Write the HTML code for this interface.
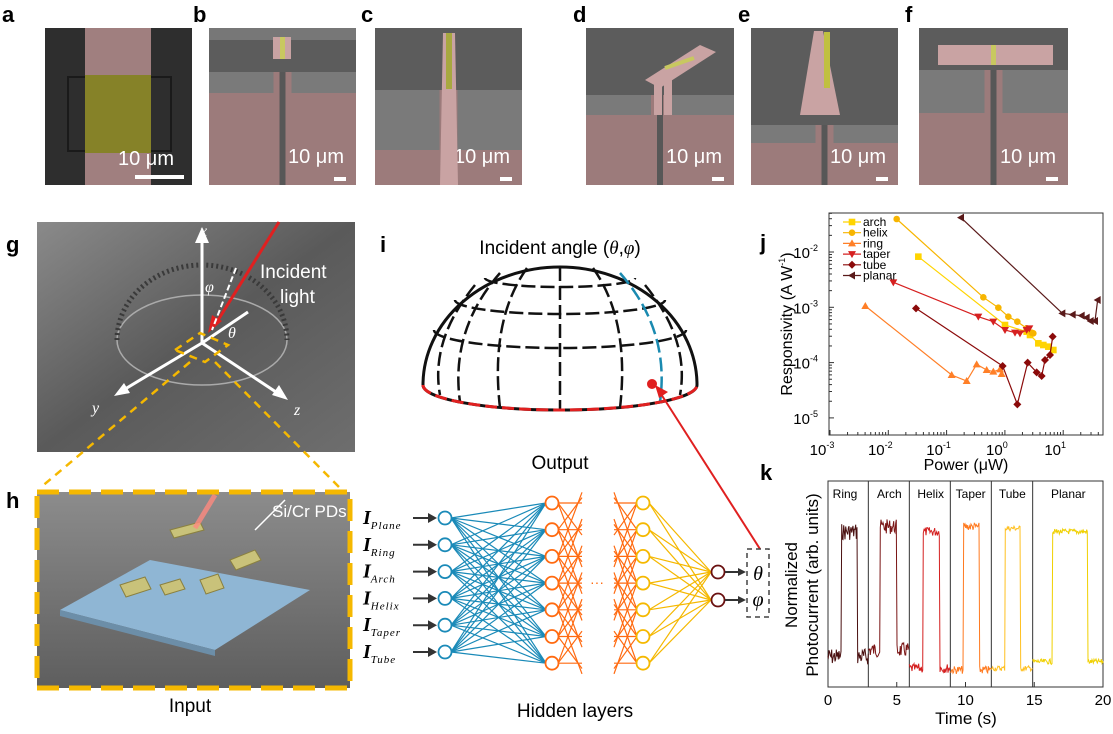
<!DOCTYPE html>
<html><head><meta charset="utf-8"><style>
html,body{margin:0;padding:0;background:#fff;}
svg{display:block;font-family:"Liberation Sans",sans-serif;}
</style></head><body>
<svg id="s" width="1113" height="734" viewBox="0 0 1113 734" xmlns="http://www.w3.org/2000/svg">
<defs>
<linearGradient id="gg" x1="0" y1="0" x2="1" y2="1"><stop offset="0" stop-color="#8a8a8a"/><stop offset="0.5" stop-color="#5a5a5a"/><stop offset="1" stop-color="#6e6e6e"/></linearGradient>
<linearGradient id="hg" x1="0" y1="0" x2="0" y2="1"><stop offset="0" stop-color="#8c8c8c"/><stop offset="1" stop-color="#5e5e5e"/></linearGradient>
</defs>
<g font-weight="bold" font-size="22" fill="#000">
<text x="2" y="22">a</text><text x="193" y="22">b</text><text x="361" y="22">c</text><text x="573" y="22">d</text><text x="738" y="22">e</text><text x="905" y="22">f</text>
<text x="6" y="252">g</text><text x="380" y="252">i</text><text x="760" y="250">j</text>
<text x="6" y="508">h</text><text x="760" y="480">k</text>
</g>
<rect x="45" y="28" width="147" height="157" fill="#2e2e2e"/>
<rect x="85" y="28" width="66" height="157" fill="#a07f7f"/>
<rect x="68" y="77" width="103" height="74" fill="none" stroke="#1a1a1a" stroke-width="2"/>
<rect x="85" y="75" width="66" height="78" fill="#868228"/>
<text x="118" y="165" fill="#fff" font-size="20">10 μm</text>
<rect x="135" y="175" width="49" height="4" fill="#fff"/>
<g id="sems"></g>
<rect x="37" y="222" width="318" height="230" fill="url(#gg)"/>
<ellipse cx="202" cy="340" rx="85" ry="45" fill="none" stroke="#aaa" stroke-width="1.5"/>
<path d="M117,340 A85,75 0 0 1 287,340" fill="none" stroke="#3a3a3a" stroke-width="5" stroke-dasharray="2 3"/>
<g stroke="#fff" stroke-width="3" fill="#fff">
<line x1="202" y1="343" x2="202" y2="235"/><polygon points="202,227 195,243 209,243" stroke="none"/>
<line x1="202" y1="343" x2="120" y2="392"/><polygon points="114,396 124,383 130,393" stroke="none"/>
<line x1="202" y1="343" x2="282" y2="396"/><polygon points="288,400 272,395 279,385" stroke="none"/>
<line x1="202" y1="343" x2="248" y2="312"/>
</g>
<line x1="279" y1="222" x2="215" y2="325" stroke="#e02020" stroke-width="3"/>
<polygon points="208,333 212,315 222,321" fill="#e02020"/>
<line x1="236" y1="268" x2="212" y2="330" stroke="#fff" stroke-width="2" stroke-dasharray="6 3"/>
<text x="200" y="236" fill="#fff" font-family="Liberation Serif" font-style="italic" font-size="16">x</text>
<text x="92" y="413" fill="#fff" font-family="Liberation Serif" font-style="italic" font-size="16">y</text>
<text x="294" y="415" fill="#fff" font-family="Liberation Serif" font-style="italic" font-size="16">z</text>
<text x="205" y="292" fill="#fff" font-family="Liberation Serif" font-style="italic" font-size="16">φ</text>
<text x="228" y="338" fill="#fff" font-family="Liberation Serif" font-style="italic" font-size="16">θ</text>
<text x="260" y="278" fill="#fff" font-size="19">Incident</text>
<text x="280" y="303" fill="#fff" font-size="19">light</text>
<g stroke="#f5b800" stroke-width="2.5" fill="none" stroke-dasharray="8 6">
<path d="M175,350 L200,333 L228,345 L205,362 Z"/>
<line x1="190" y1="362" x2="40" y2="488"/><line x1="215" y1="362" x2="340" y2="488"/>
</g>
<rect x="37" y="492" width="313" height="196" fill="url(#hg)"/>
<polygon points="60,610 150,560 310,590 215,650" fill="#8fb6d4"/>
<polygon points="60,610 215,650 215,656 60,616" fill="#6c8ea8"/>
<g fill="#c9c27a" stroke="#8a8040" stroke-width="1">
<path d="M120,585 l25,-8 l6,12 l-25,8z"/><path d="M160,585 l20,-6 l5,10 l-20,6z"/><path d="M200,580 l18,-6 l6,14 l-18,6z"/>
<path d="M170,530 l30,-8 l4,8 l-30,8z"/><path d="M230,560 l25,-10 l6,10 l-25,10z"/>
</g>
<line x1="215" y1="495" x2="195" y2="528" stroke="#ff8a80" stroke-width="5" opacity="0.8"/>
<line x1="255" y1="530" x2="285" y2="500" stroke="#fff" stroke-width="1.5"/>
<text x="272" y="517" fill="#fff" font-size="17">Si/Cr PDs</text>
<rect x="37" y="492" width="313" height="196" fill="none" stroke="#f5b800" stroke-width="5" stroke-dasharray="22 10"/>
<text x="190" y="712" font-size="19" text-anchor="middle">Input</text>
<text x="560" y="254" font-size="19" text-anchor="middle">Incident angle (<tspan font-family="Liberation Serif" font-style="italic">θ</tspan>,<tspan font-family="Liberation Serif" font-style="italic">φ</tspan>)</text>
<g fill="none" stroke="#111" stroke-width="3">
<path d="M423,385 A137,118 0 0 1 697,385"/>
<path d="M423,385 A137,25 0 0 0 697,385"/>
<g stroke-dasharray="14 5" stroke-width="2.5">
<path d="M434,330 A126,18 0 0 0 686,330"/>
<path d="M455,300 A105,14 0 0 0 665,300"/>
<path d="M485,278 A75,9 0 0 0 635,278"/>
<path d="M527,268 Q490,320 500,408"/>
<path d="M593,268 Q630,320 620,408"/>
<path d="M500,273 Q450,330 460,402"/>
<path d="M620,273 Q670,330 660,402" stroke="#1a8ab0"/>
<path d="M560,267 L560,410"/>
<path d="M475,285 Q430,340 440,395"/>
<path d="M645,285 Q690,340 680,395"/>
</g>
</g>
<path d="M423,385 A137,25 0 0 0 697,385" fill="none" stroke="#e02020" stroke-width="3" stroke-dasharray="12 5"/>
<circle cx="652" cy="384" r="5" fill="#e02020"/>
<text x="560" y="469" font-size="19" text-anchor="middle">Output</text>
<line x1="760" y1="549" x2="661" y2="394" stroke="#e02020" stroke-width="2"/>
<polygon points="655,385 668,392 659,398" fill="#e02020"/>
<g id="nn"></g>
<text x="575" y="717" font-size="19" text-anchor="middle">Hidden layers</text>
<g id="j"></g>
<g id="k"></g>
</svg>
<script>
var NS="http://www.w3.org/2000/svg";
function el(p,t,a,txt){var e=document.createElementNS(NS,t);for(var k in a)e.setAttribute(k,a[k]);if(txt!=null)e.textContent=txt;p.appendChild(e);return e;}
var sems=document.getElementById('sems');
var P=[[209,356,93,72],[375,522,150,90],[586,734,115,95],[751,898,143,125],[919,1068,113,70]];
var PK='#9c7b7b',PL='#c9a3a3';
P.forEach(function(p,i){var x=p[0],w=p[1]-p[0],cx=x+w/2;
el(sems,'rect',{x:x,y:28,width:w,height:157,fill:'#5c5c5c'});
el(sems,'rect',{x:x,y:p[3],width:w,height:p[2]-p[3],fill:'#7a7a7a'});
el(sems,'rect',{x:x,y:p[2],width:w,height:185-p[2],fill:PK});
el(sems,'rect',{x:cx-9,y:p[3],width:18,height:p[2]-p[3],fill:PK});
el(sems,'rect',{x:cx-3,y:p[3],width:6,height:185-p[3],fill:'#575757'});
el(sems,'text',{x:p[1]-68,y:163,fill:'#fff','font-size':20},'10 μm');
el(sems,'rect',{x:p[1]-22,y:177,width:12,height:4,fill:'#fff'});
});
el(sems,'rect',{x:209,y:28,width:147,height:12,fill:'#777'});
el(sems,'rect',{x:273,y:37,width:18,height:22,fill:PL});el(sems,'rect',{x:280,y:37,width:5,height:22,fill:'#c8c860'});
el(sems,'polygon',{points:'443,33 455,33 458,185 440,185',fill:PL});el(sems,'rect',{x:446,y:33,width:6,height:56,fill:'#a8a840'});
el(sems,'polygon',{points:'645,80 700,45 716,52 660,88',fill:PL});el(sems,'rect',{x:654,y:80,width:8,height:35,fill:PL});el(sems,'rect',{x:664,y:80,width:8,height:35,fill:PL});el(sems,'line',{x1:665,y1:68,x2:694,y2:58,stroke:'#c8c860','stroke-width':4});
el(sems,'polygon',{points:'814,31 823,31 840,115 800,115',fill:PL});el(sems,'rect',{x:824,y:32,width:6,height:56,fill:'#c0c040'});
el(sems,'rect',{x:938,y:45,width:115,height:20,fill:PL});el(sems,'rect',{x:991,y:45,width:5,height:20,fill:'#c8c860'});
var nn=document.getElementById('nn');
var L1=[],L2=[],L3=[];
for(var i=0;i<6;i++)L1.push(518+i*26.8);
for(var i=0;i<7;i++){L2.push(503+i*26.7);L3.push(503+i*26.7);}
L1.forEach(function(a){L2.forEach(function(b){el(nn,'line',{x1:451,y1:a,x2:546,y2:b,stroke:'#1a8ab8','stroke-width':1.2});});});
L2.forEach(function(a){L2.forEach(function(b){if(Math.abs(a-b)<60)el(nn,'line',{x1:558,y1:a,x2:582,y2:b+(b-a)*0.2,stroke:'#ff6a10','stroke-width':1.2});});});
L3.forEach(function(a){L3.forEach(function(b){if(Math.abs(a-b)<60)el(nn,'line',{x1:614,y1:b+(b-a)*0.2,x2:637,y2:a,stroke:'#ff6a10','stroke-width':1.2});});});
L3.forEach(function(a){[572,600].forEach(function(b){el(nn,'line',{x1:649,y1:a,x2:711,y2:b,stroke:'#f5b800','stroke-width':1.2});});});
L1.forEach(function(y){el(nn,'circle',{cx:445,cy:y,r:6.5,fill:'#fff',stroke:'#1a8ab8','stroke-width':1.8});});
L2.forEach(function(y){el(nn,'circle',{cx:552,cy:y,r:6.5,fill:'#fff',stroke:'#ff6a10','stroke-width':1.8});});
L3.forEach(function(y){el(nn,'circle',{cx:643,cy:y,r:6.5,fill:'#fff',stroke:'#f5b800','stroke-width':1.8});});
[572,600].forEach(function(y){el(nn,'circle',{cx:718,cy:y,r:6.5,fill:'#fff',stroke:'#6a1010','stroke-width':1.8});
el(nn,'line',{x1:725,y1:y,x2:740,y2:y,stroke:'#333','stroke-width':2});el(nn,'polygon',{points:'746,'+y+' 738,'+(y-4)+' 738,'+(y+4),fill:'#333'});});
el(nn,'text',{x:597,y:587,fill:'#ff6a10','font-size':14,'text-anchor':'middle'},'···');
el(nn,'rect',{x:747,y:549,width:22,height:68,fill:'none',stroke:'#444','stroke-width':1.5,'stroke-dasharray':'5 4'});
el(nn,'text',{x:758,y:580,'font-size':20,'font-family':'Liberation Serif','font-style':'italic','text-anchor':'middle'},'θ');
el(nn,'text',{x:758,y:606,'font-size':20,'font-family':'Liberation Serif','font-style':'italic','text-anchor':'middle'},'φ');
['Plane','Ring','Arch','Helix','Taper','Tube'].forEach(function(n,i){var y=L1[i];
var t=el(nn,'text',{x:363,y:y+6,'font-family':'Liberation Serif','font-style':'italic'});
el(t,'tspan',{'font-size':20,'font-weight':'bold'},'I');el(t,'tspan',{'font-size':11,dy:5,'letter-spacing':1},n);
el(nn,'line',{x1:413,y1:y,x2:430,y2:y,stroke:'#333','stroke-width':2});el(nn,'polygon',{points:'437,'+y+' 428,'+(y-5)+' 428,'+(y+5),fill:'#333'});});
var j=document.getElementById('j');
el(j,'rect',{x:829,y:213,width:274,height:222,fill:'none',stroke:'#333','stroke-width':1});
function X(d){return 830+(d+3)*58.3;} function Y(d){return 252+(-2-d)*55.3;}
for(var d=-3;d<=1;d++){var x=X(d);el(j,'line',{x1:x,y1:435,x2:x,y2:430,stroke:'#333'});
for(var m=2;m<10;m++){var xm=x+Math.log10(m)*58.3;if(xm<1103)el(j,'line',{x1:xm,y1:435,x2:xm,y2:432,stroke:'#333'});}
var t=el(j,'text',{x:x-8,y:455,'font-size':15,'text-anchor':'middle'},'10');el(t,'tspan',{'font-size':9,dy:-7},String(d));}
for(var d=-5;d<=-2;d++){var y=Y(d);el(j,'line',{x1:829,y1:y,x2:834,y2:y,stroke:'#333'});
for(var m=2;m<10;m++){var ym=y-Math.log10(m)*55.3;if(ym>213)el(j,'line',{x1:829,y1:ym,x2:832,y2:ym,stroke:'#333'});}
var t=el(j,'text',{x:818,y:y+6,'font-size':15,'text-anchor':'end'},'10');el(t,'tspan',{'font-size':9,dy:-7},String(d));}
el(j,'text',{x:966,y:470,'font-size':16,'text-anchor':'middle'},'Power (μW)');
var yl=el(j,'text',{x:0,y:0,'font-size':16,'text-anchor':'middle',transform:'translate(792,324) rotate(-90)'},'Responsivity (A W');el(yl,'tspan',{'font-size':9,dy:-7},'-1');el(yl,'tspan',{'font-size':16,dy:7},')');
var S=[
['arch','#ffd400','s',[[475,230],[735,435],[800,455],[810,465],[835,490],[850,495],[865,500],[880,510]]],
['helix','#f7b500','c',[[410,117],[670,352],[715,383],[745,410],[772,425],[800,445],[815,458],[820,460]]],
['ring','#ff7f27','u',[[316,378],[575,585],[620,603],[650,553],[680,570],[700,575],[720,568],[725,582]]],
['taper','#d62020','d',[[400,307],[655,410],[700,425],[735,450],[765,458],[780,460],[800,450],[808,445]]],
['tube','#8b0a0a','m',[[468,385],[728,558],[772,673],[803,548],[830,577],[845,588],[855,540],[870,525],[878,470]]],
['planar','#5a1a1a','l',[[603,113],[907,400],[938,404],[965,407],[980,413],[992,423],[1005,423],[1013,360]]]];
function mk(g,t,x,y,c){var r=3.3;if(t=='s')el(g,'rect',{x:x-r,y:y-r,width:2*r,height:2*r,fill:c});
else if(t=='c')el(g,'circle',{cx:x,cy:y,r:r,fill:c});
else if(t=='u')el(g,'polygon',{points:x+','+(y-4)+' '+(x-4)+','+(y+3)+' '+(x+4)+','+(y+3),fill:c});
else if(t=='d')el(g,'polygon',{points:x+','+(y+4)+' '+(x-4)+','+(y-3)+' '+(x+4)+','+(y-3),fill:c});
else if(t=='m')el(g,'polygon',{points:x+','+(y-4)+' '+(x+4)+','+y+' '+x+','+(y+4)+' '+(x-4)+','+y,fill:c});
else el(g,'polygon',{points:(x-4)+','+y+' '+(x+3)+','+(y-4)+' '+(x+3)+','+(y+4),fill:c});}
S.forEach(function(s,i){var pts=s[3].map(function(p){return [760+p[0]/3,180+p[1]/3];});
el(j,'polyline',{points:pts.map(function(p){return p.join(',');}).join(' '),fill:'none',stroke:s[1],'stroke-width':1.2});
pts.forEach(function(p){mk(j,s[2],p[0],p[1],s[1]);});
var ly=222+i*10.7;el(j,'line',{x1:843,y1:ly,x2:861,y2:ly,stroke:s[1],'stroke-width':1.2});mk(j,s[2],852,ly,s[1]);
el(j,'text',{x:863,y:ly+4,'font-size':12},s[0]);});
var k=document.getElementById('k');
el(k,'rect',{x:828,y:481,width:275,height:206,fill:'none',stroke:'#333','stroke-width':1});
[325,448,571,694,818].forEach(function(zx){var x=760+zx/3;el(k,'line',{x1:x,y1:481,x2:x,y2:687,stroke:'#333','stroke-width':1});});
var names=[['Ring',255],['Arch',388],['Helix',512],['Taper',632],['Tube',757],['Planar',925]];
names.forEach(function(n){el(k,'text',{x:760+n[1]/3,y:498,'font-size':12,'text-anchor':'middle'},n[0]);});
for(var t=0;t<=20;t+=5){var x=828+t*13.75;el(k,'line',{x1:x,y1:687,x2:x,y2:682,stroke:'#333'});el(k,'text',{x:x,y:705,'font-size':15,'text-anchor':'middle'},String(t));}
el(k,'text',{x:966,y:724,'font-size':17,'text-anchor':'middle'},'Time (s)');
el(k,'text',{x:0,y:0,'font-size':17,'text-anchor':'middle',transform:'translate(797,585) rotate(-90)'},'Normalized');
el(k,'text',{x:0,y:0,'font-size':17,'text-anchor':'middle',transform:'translate(818,585) rotate(-90)'},'Photocurrent (arb. units)');
var T=[[203,245,292,325,590,215,'#4a1010',25],[325,360,410,448,570,200,'#7a1515',22],[448,490,538,571,625,215,'#d42020',14],[571,610,657,694,630,200,'#ff7a20',12],[694,735,780,818,625,205,'#ffc020',8],[818,878,982,1030,605,215,'#f0d000',8]];
var seed=7;function rnd(){seed=(seed*9301+49297)%233280;return seed/233280;}
T.forEach(function(t){var d='';for(var zx=t[0];zx<=t[3];zx+=2){var hi=zx>=t[1]&&zx<=t[2];var zy=(hi?t[5]:t[4])+(rnd()-0.5)*t[7]*2;
d+=(d?'L':'M')+(760+zx/3).toFixed(1)+','+(460+zy/3).toFixed(1);}
el(k,'path',{d:d,fill:'none',stroke:t[6],'stroke-width':1});});
</script>
</body></html>
